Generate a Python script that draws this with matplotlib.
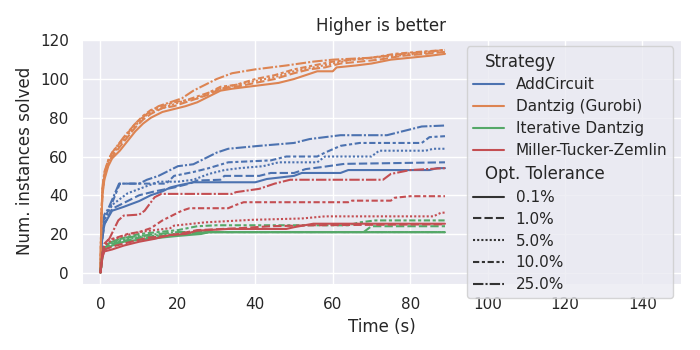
import matplotlib
matplotlib.use("Agg")
import matplotlib.pyplot as plt
from matplotlib.lines import Line2D
from matplotlib.offsetbox import VPacker

# seaborn-like "darkgrid" look, done by hand
plt.rcParams.update({
    "axes.facecolor": "#EAEAF2",
    "axes.edgecolor": "white",
    "axes.grid": True,
    "axes.axisbelow": True,
    "grid.color": "white",
    "grid.linewidth": 1,
    "xtick.bottom": False,
    "ytick.left": False,
    "xtick.major.size": 6,
    "ytick.major.size": 6,
    "text.color": ".15",
    "axes.labelcolor": ".15",
    "xtick.color": ".15",
    "ytick.color": ".15",
    "font.size": 12,
    "axes.labelsize": 12,
    "axes.titlesize": 12,
    "xtick.labelsize": 11,
    "ytick.labelsize": 11,
    "legend.fontsize": 11,
    "legend.title_fontsize": 12,
    "lines.linewidth": 1.5,
    "lines.solid_capstyle": "round",
})

strategies = ["AddCircuit", "Dantzig (Gurobi)", "Iterative Dantzig", "Miller-Tucker-Zemlin"]
colors = ["#4C72B0", "#DD8452", "#55A868", "#C44E52"]
tolerances = ["0.1%", "1.0%", "5.0%", "10.0%", "25.0%"]
dashes = ["-", (0, (4, 1.5)), (0, (1, 1)), (0, (3, 1.25, 1.5, 1.25)), (0, (5, 1, 1, 1))]

# (time, instances solved), one list per tolerance
addcircuit = {
    "0.1%": [(0, 0), (0.3, 15), (1, 25), (3, 32), (6, 34), (10, 37), (13, 40), (16, 42), (18, 44), (20, 45),
             (24, 46.7), (40, 46.7), (43, 48.4), (50, 50), (52, 51.5), (62, 51.5), (64, 53), (85, 53), (87, 54), (89, 54)],
    "1.0%": [(0, 0), (0.3, 15), (1, 25), (3, 33), (6, 36), (10, 40), (14, 42), (19, 44), (23, 46), (25, 47.6),
             (31, 48), (32, 50), (41, 50), (44, 51.5), (50, 51.5), (53, 53.5), (57, 54.5), (63, 56.2), (89, 57)],
    "5.0%": [(0, 0), (0.3, 15), (1, 27), (3, 35), (7, 41), (11, 44), (15, 47), (20, 47), (24, 48), (28, 51),
             (32, 53), (36, 54), (42, 55), (46, 57), (56, 57), (58, 60), (70, 60), (72, 63), (84, 63), (86, 64), (89, 64)],
    "10.0%": [(0, 0), (0.3, 18), (1, 28), (3, 36), (5, 46), (17, 46), (19, 50), (24, 52), (28, 54), (33, 57),
              (44, 58), (48, 60), (56, 60), (58, 62), (62, 65.5), (67, 67), (83, 67), (85, 70), (89, 70.5)],
    "25.0%": [(0, 0), (0.3, 20), (1, 30), (2, 33), (4.8, 46), (10, 46), (12, 48), (15, 50), (17, 52), (20, 55),
              (24, 56), (27, 59), (30, 62), (33, 64), (41, 65.5), (50, 67), (54, 69), (62, 71), (74, 71), (76, 72),
              (80, 74), (83, 75.5), (89, 76)],
}
dantzig = {
    "0.1%": [(0, 0), (0.2, 25), (0.5, 40), (1, 48), (2, 55), (3, 59), (5, 63), (7, 68), (9, 73), (11, 77), (13, 80),
             (16, 83), (19, 84.5), (22, 86), (25, 88), (28, 91), (31, 94), (34, 95), (38, 96), (42, 97), (46, 98),
             (50, 100), (53, 102), (56, 104), (60, 104), (61, 106), (66, 107), (70, 108), (75, 110), (80, 111),
             (85, 112), (89, 113)],
    "1.0%": [(0, 0), (0.2, 26), (0.5, 42), (1, 50), (2, 56), (3, 60), (5, 65), (7, 70), (9, 75), (11, 79), (13, 82),
             (16, 85), (19, 86), (22, 88), (25, 90), (28, 92), (31, 95), (35, 96), (40, 98), (45, 100), (50, 103),
             (54, 105), (58, 106), (62, 108), (67, 109), (72, 110), (78, 112), (84, 113), (89, 114)],
    "5.0%": [(0, 0), (0.2, 26), (0.5, 41), (1, 49), (2, 57), (3, 61), (5, 66), (7, 71), (9, 76), (11, 80), (13, 83),
             (16, 85), (19, 87), (22, 89), (25, 90), (28, 93), (31, 95), (35, 97), (40, 99), (45, 101), (50, 104),
             (55, 106), (60, 108), (65, 110), (70, 111), (76, 112), (82, 113), (89, 115)],
    "10.0%": [(0, 0), (0.2, 27), (0.5, 43), (1, 51), (2, 58), (3, 62), (5, 67), (7, 72), (9, 77), (11, 81), (13, 84),
              (16, 86), (19, 88), (22, 89), (25, 91), (28, 93), (31, 96), (35, 97), (40, 100), (45, 102), (50, 105),
              (55, 107), (60, 109), (65, 110), (70, 111), (76, 113), (82, 114), (89, 115)],
    "25.0%": [(0, 0), (0.2, 28), (0.5, 44), (1, 52), (2, 58), (3, 62), (6, 70), (9, 77), (12, 82), (15, 86),
              (18, 88), (21, 90), (24, 94), (27, 97), (30, 100), (34, 103), (40, 105), (48, 107), (55, 109),
              (60, 110), (70, 111), (78, 113), (84, 114), (89, 115)],
}
iterative = {
    "0.1%": [(0, 0), (0.5, 8), (1, 12), (3, 14), (6, 16), (10, 17), (15, 18), (20, 19), (26, 20), (28, 20.9), (89, 20.9)],
    "1.0%": [(0, 0), (0.5, 9), (1, 13), (3, 15), (6, 16.5), (10, 18), (16, 19), (22, 20), (28, 21), (68, 21),
             (70, 24), (89, 24)],
    "5.0%": [(0, 0), (0.5, 9), (1, 13), (3, 15), (6, 17), (10, 18.5), (16, 19.5), (22, 20.5), (30, 21), (89, 21)],
    "10.0%": [(0, 0), (0.5, 10), (1, 14), (3, 16), (6, 18), (10, 20), (15, 21), (20, 22), (25, 24), (30, 24.5),
              (64, 24.5), (67, 26), (71, 27), (89, 27)],
    "25.0%": [(0, 0), (0.5, 10), (1, 14), (3, 16), (6, 18), (10, 19), (15, 20), (20, 21), (30, 21), (89, 21)],
}
mtz = {
    "0.1%": [(0, 0), (0.5, 8), (1, 11), (3, 12), (6, 14), (10, 16), (14, 17.5), (18, 19.5), (22, 20), (25, 21.7),
             (33, 22.6), (48, 22.6), (50, 23.5), (55, 25.3), (89, 25.3)],
    "1.0%": [(0, 0), (0.5, 9), (1, 12), (4, 14), (8, 16), (12, 18), (17, 19), (20, 20), (25, 22), (36, 23),
             (44, 24), (55, 24.5), (89, 25)],
    "5.0%": [(0, 0), (0.5, 10), (1, 14), (3, 17), (6, 19), (10, 21), (14, 22), (18, 23), (19, 24.3), (27, 26),
             (39, 27.3), (52, 28), (58, 29.1), (86, 29.1), (88, 31), (89, 31)],
    "10.0%": [(0, 0), (0.5, 10), (1, 15), (2, 17), (4, 18), (7, 20), (10, 21), (13, 23), (16, 27), (19, 30),
              (21, 32), (23, 33.3), (33, 33.3), (35, 35), (37, 36.4), (64, 36.4), (65, 37.2), (75, 37.2),
              (76, 38.7), (80, 39.5), (89, 39.5)],
    "25.0%": [(0, 0), (0.5, 10), (1, 14), (2.3, 17.6), (4.6, 27), (6, 29.5), (10, 30), (11.4, 32), (14, 39),
              (15.7, 40.7), (34, 40.7), (35, 41.6), (41, 43.3), (45, 46), (49, 48), (73, 48), (75, 51), (80, 53),
              (89, 54)],
}
curves = [addcircuit, dantzig, iterative, mtz]

fig = plt.figure(figsize=(7, 3.5), dpi=100)
ax = fig.add_axes([0.117, 0.189, 0.856, 0.7])

for strat, col, data in zip(strategies, colors, curves):
    for tol, ls in zip(tolerances, dashes):
        t = [p[0] for p in data[tol]]
        v = [p[1] for p in data[tol]]
        ax.plot(t, v, color=col, linestyle=ls)

ax.set_xlim(-4.8, 150)
ax.set_xticks([0, 20, 40, 60, 80, 100, 120, 140])
ax.set_yticks([0, 20, 40, 60, 80, 100, 120])
ax.set_title("Higher is better")
ax.set_xlabel("Time (s)")
ax.set_ylabel("Num. instances solved")

# legend with sub-titles, like seaborn does it
handles = [Line2D([], [], visible=False, label="Strategy")]
for strat, col in zip(strategies, colors):
    handles.append(Line2D([], [], color=col, label=strat))
handles.append(Line2D([], [], visible=False, label="Opt. Tolerance"))
for tol, ls in zip(tolerances, dashes):
    handles.append(Line2D([], [], color=".2", linestyle=ls, label=tol))
leg = ax.legend(handles=handles, loc="upper right", labelspacing=0.45)
for hpack in leg.findobj(VPacker)[0].get_children():
    draw_area, text_area = hpack.get_children()
    if not all(a.get_visible() for a in draw_area.get_children()):
        draw_area.set_width(0)
        for txt in text_area.get_children():
            txt.set_size(12)

fig.savefig("out.png")
